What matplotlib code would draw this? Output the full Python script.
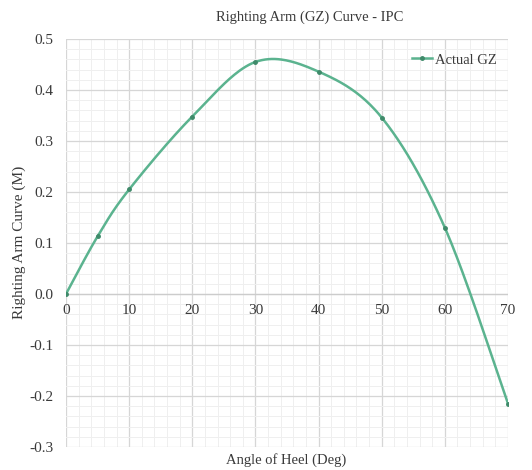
import numpy as np
import matplotlib
matplotlib.use("Agg")
import matplotlib.pyplot as plt
from matplotlib.ticker import MultipleLocator, FormatStrFormatter
from matplotlib.lines import Line2D

angles = [0, 5, 10, 20, 30, 40, 50, 60, 70]
gz = [0.0, 0.113, 0.205, 0.348, 0.455, 0.436, 0.346, 0.130, -0.215]
x_ticks = [0, 10, 20, 30, 40, 50, 60, 70]
title = "Righting Arm (GZ) Curve - IPC"
xlabel = "Angle of Heel (Deg)"
ylabel = "Righting Arm Curve (M)"
series_name = "Actual GZ"

plt.rcParams['font.family'] = ['Liberation Serif', 'DejaVu Serif']

def smooth(xs, ys, n=40):
    P = np.column_stack([xs, ys]).astype(float)
    out = []
    m = len(P)
    for i in range(m - 1):
        p0 = P[i - 1] if i > 0 else P[i]
        p1 = P[i]
        p2 = P[i + 1]
        p3 = P[i + 2] if i + 2 < m else P[i + 1]
        c1 = p1 + (p2 - p0) / 6.0
        c2 = p2 - (p3 - p1) / 6.0
        t = np.linspace(0, 1, n)[:, None]
        seg = ((1 - t) ** 3) * p1 + 3 * ((1 - t) ** 2) * t * c1 + 3 * (1 - t) * t ** 2 * c2 + t ** 3 * p2
        if i > 0:
            seg = seg[1:]
        out.append(seg)
    out = np.vstack(out)
    return out[:, 0], out[:, 1]

fig = plt.figure(figsize=(5.32, 4.70), dpi=100)
ax = fig.add_axes([66/532, 1 - 447/470, (508 - 66)/532, (447 - 39)/470])

line_color = '#5bb38f'
marker_color = '#3f8a6a'
text_color = '#3a3a3a'

sx, sy = smooth(angles, gz)
ax.plot(sx, sy, color=line_color, lw=1.8, zorder=3)
ax.plot(angles, gz, 'o', color=marker_color, ms=2.5, zorder=4)

ax.set_xlim(0, 70)
ax.set_ylim(-0.3, 0.5)
ax.xaxis.set_major_locator(MultipleLocator(10))
ax.xaxis.set_minor_locator(MultipleLocator(2))
ax.yaxis.set_major_locator(MultipleLocator(0.1))
ax.yaxis.set_minor_locator(MultipleLocator(0.02))
ax.yaxis.set_major_formatter(FormatStrFormatter('%.1f'))

ax.grid(which='major', color='#d6d6d6', lw=0.9)
ax.grid(which='minor', color='#efefef', lw=0.7)
ax.set_axisbelow(True)
for s in ax.spines.values():
    s.set_visible(False)

ax.tick_params(axis='both', which='both', length=0)
ax.tick_params(axis='y', labelsize=11, colors=text_color, pad=9)
ax.set_xticklabels([])
for xt in x_ticks:
    ax.text(xt, -0.02, str(xt), ha='center', va='top', fontsize=11, color=text_color)

ax.axhline(0, color='#cccccc', lw=0.9, zorder=2)

fig.text(310/532, 1 - 17/470, title, ha='center', va='center', fontsize=10.5, color=text_color)
fig.text(286/532, 1 - 460/470, xlabel, ha='center', va='center', fontsize=10.5, color=text_color)
fig.text(19/532, 1 - 242/470, ylabel, ha='center', va='center', rotation=90, fontsize=11, color=text_color)

handle = Line2D([0], [0], color=line_color, lw=1.8, marker='o', ms=2.5, markerfacecolor=marker_color, markeredgecolor=marker_color)
leg = ax.legend([handle], [series_name], loc='upper right', bbox_to_anchor=(1.005, 0.997),
                frameon=False, fontsize=10.5, handlelength=1.4, handletextpad=0.2)
for t in leg.get_texts():
    t.set_color(text_color)

fig.savefig('out.png', dpi=100)
